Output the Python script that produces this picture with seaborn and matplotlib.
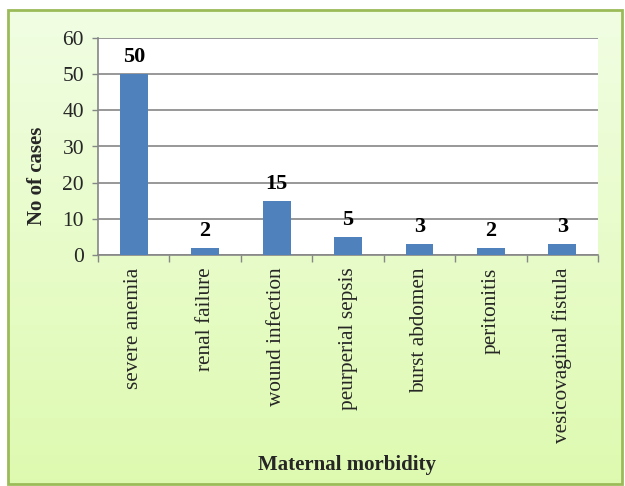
import numpy as np
import pandas as pd
import matplotlib
matplotlib.use("Agg")
import matplotlib.pyplot as plt
from matplotlib.patches import Rectangle
import seaborn as sns

categories = ["severe anemia", "renal failure", "wound infection", "peurperial sepsis",
              "burst abdomen", "peritonitis", "vesicovaginal fistula"]
cases = [50, 2, 15, 5, 3, 2, 3]
y_ticks = [0, 10, 20, 30, 40, 50, 60]

sns.set_theme(style="white")
plt.rcParams["font.family"] = ["Liberation Serif", "DejaVu Serif"]

W, H = 625, 486
fig = plt.figure(figsize=(W / 100, H / 100), dpi=100)
fig.patch.set_facecolor("white")

# chart-area background: light green vertical gradient with a green frame
bx0, by0, bx1, by1 = 8 / W, 1 - 484 / H, 622 / W, 1 - 10 / H
bg = fig.add_axes([bx0, by0, bx1 - bx0, by1 - by0], zorder=0)
top = np.array([0.945, 0.995, 0.890])
bot = np.array([0.870, 0.980, 0.690])
t = np.linspace(0, 1, 256)[:, None]
grad = (top * (1 - t) + bot * t)[:, None, :]
bg.imshow(grad, aspect="auto", extent=[0, 1, 0, 1], origin="upper")
bg.set_xlim(0, 1)
bg.set_ylim(0, 1)
bg.axis("off")
fig.patches.append(Rectangle((bx0, by0), bx1 - bx0, by1 - by0, transform=fig.transFigure,
                             fill=False, edgecolor="#9BBB59", linewidth=2.0, zorder=5))

ax = fig.add_axes([98 / W, 1 - 255 / H, 500 / W, 217 / H], zorder=1)
ax.set_facecolor("white")

df = pd.DataFrame({"category": categories, "cases": cases})
sns.barplot(data=df, x="category", y="cases", color="#4F81BD", saturation=1,
            width=0.39, linewidth=0, ax=ax, zorder=3)

for i, v in enumerate(cases):
    ax.text(i, v + 2.0, str(v), ha="center", va="bottom", fontsize=16,
            fontweight="bold", color="black", zorder=4)

ax.set_ylim(0, 60)
ax.set_yticks(y_ticks)
ax.set_yticklabels([str(v) for v in y_ticks], fontsize=15.5)
ax.set_xlim(-0.5, len(categories) - 0.5)
ax.set_xticks(np.arange(len(categories)))
ax.set_xticklabels(categories, rotation=90, fontsize=15.3)
ax.tick_params(axis="x", length=0, pad=9)
ax.tick_params(axis="y", length=4, width=1, color="#868686", pad=6, left=True)

# category boundary ticks below the baseline
ax.set_xticks(np.arange(len(categories) + 1) - 0.5, minor=True)
ax.tick_params(axis="x", which="minor", length=5, width=1, color="#868686", bottom=True)

ax.yaxis.grid(True, color="#868686", linewidth=1.2, zorder=0)
ax.set_axisbelow(True)
for side in ["top", "right"]:
    ax.spines[side].set_visible(False)
for side in ["left", "bottom"]:
    ax.spines[side].set_color("#868686")
    ax.spines[side].set_linewidth(1.2)

ax.set_xlabel("")
ax.set_ylabel("")
fig.text(37 / W, 1 - 176 / H, "No of cases", rotation=90, ha="center", va="center",
         fontsize=15, fontweight="bold")
fig.text(347 / W, 1 - 465 / H, "Maternal morbidity", ha="center", va="center",
         fontsize=15, fontweight="bold")

fig.savefig("out.png", dpi=100)
